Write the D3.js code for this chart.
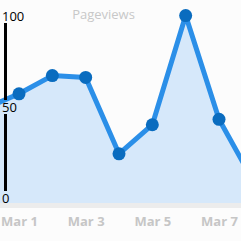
<!DOCTYPE html>
<html>
<head>
<meta charset="utf-8">
<script src="https://cdn.jsdelivr.net/npm/d3@7"></script>
<style>
  body { margin: 0; background: #fcfcfc; }
  svg { display: block; font-family: "Open Sans", sans-serif; }
</style>
</head>
<body>
<div id="chart"></div>
<script>
// daily pageviews, first and last day run off the edges
const days = ["2020-02-29", "2020-03-01", "2020-03-02", "2020-03-03", "2020-03-04",
              "2020-03-05", "2020-03-06", "2020-03-07", "2020-03-08"];
const pageviews = [52, 60, 70, 69, 27, 43, 103, 46, 13];
const yTicks = [0, 50, 100];
const xTicks = ["2020-03-01", "2020-03-03", "2020-03-05", "2020-03-07"];

const parse = d3.timeParse("%Y-%m-%d");
const data = days.map((d, i) => ({ date: parse(d), value: pageviews[i] }));

const width = 241, height = 241;
const svg = d3.select("#chart").append("svg")
    .attr("width", width)
    .attr("height", height);

const x = d3.scaleTime()
    .domain([parse("2020-03-01"), parse("2020-03-07")])
    .range([19, 219]);

const y = d3.scaleLinear()
    .domain([0, 100])
    .range([203, 21]);

// area + line
svg.append("path")
    .datum(data)
    .attr("fill", "#d6e8fa")
    .attr("d", d3.area().x(d => x(d.date)).y0(y(0)).y1(d => y(d.value)));

svg.append("rect")
    .attr("x", 0).attr("y", y(0))
    .attr("width", width).attr("height", 5)
    .attr("fill", "#ececec");

svg.append("path")
    .datum(data)
    .attr("fill", "none")
    .attr("stroke", "#2b8fe8")
    .attr("stroke-width", 5)
    .attr("stroke-linejoin", "round")
    .attr("d", d3.line().x(d => x(d.date)).y(d => y(d.value)));

svg.selectAll(".dot")
    .data(data)
    .enter()
    .append("circle")
    .attr("class", "dot")
    .attr("cx", d => x(d.date))
    .attr("cy", d => y(d.value))
    .attr("r", 6.5)
    .attr("fill", "#0a6cbf");

// y axis: line pieces between the labels
const yAxis = svg.append("g");
const sorted = yTicks.slice().sort((a, b) => b - a);
for (let i = 0; i < sorted.length - 1; i++) {
    yAxis.append("line")
        .attr("x1", 5.5).attr("x2", 5.5)
        .attr("y1", y(sorted[i]) + 2)
        .attr("y2", y(sorted[i + 1]) - 12)
        .attr("stroke", "#000")
        .attr("stroke-width", 3);
}
yAxis.selectAll("text")
    .data(yTicks)
    .enter()
    .append("text")
    .attr("x", 2)
    .attr("y", d => y(d))
    .attr("font-size", 13)
    .attr("fill", "#000")
    .text(d => d);

// x axis
svg.append("g")
    .attr("transform", `translate(0,${y(0) + 5})`)
    .call(d3.axisBottom(x)
        .tickValues(xTicks.map(parse))
        .tickFormat(d3.timeFormat("%b %-d"))
        .tickSize(0)
        .tickPadding(9))
    .call(g => g.select(".domain").remove())
    .selectAll("text")
    .attr("font-family", "'Open Sans', sans-serif")
    .attr("font-size", 13)
    .attr("font-weight", "bold")
    .attr("fill", "#c6c6c6");

svg.append("text")
    .attr("x", 103.5)
    .attr("y", 19)
    .attr("text-anchor", "middle")
    .attr("font-size", 13)
    .attr("fill", "#c8c8c8")
    .text("Pageviews");
</script>
</body>
</html>
